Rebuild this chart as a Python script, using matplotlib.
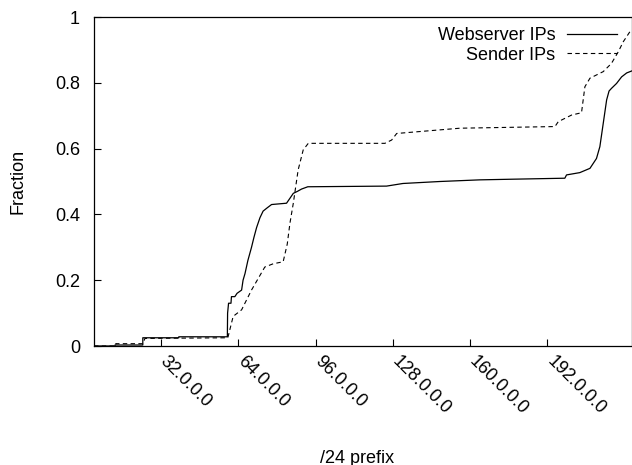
import matplotlib
matplotlib.use("Agg")
import matplotlib.pyplot as plt
from matplotlib.ticker import FixedLocator, FuncFormatter
from matplotlib.transforms import ScaledTranslation

plt.rcParams['font.family'] = ['Liberation Sans', 'DejaVu Sans']

# x in units of the first octet (/8), y = cumulative fraction
web_x = [4.3, 13.0, 13.0, 24.5, 24.5, 39.4, 39.4, 59.5, 59.6, 60.0, 61.0, 61.2,
         62.6, 63.5, 65.4, 66.0, 66.8, 68.0, 69.5, 70.5, 71.6, 73.0, 74.3, 76.0,
         77.8, 84.0, 85.5, 86.8, 88.5, 90.2, 92.8, 125.4, 132.2, 147.5, 164.0,
         177.7, 199.2, 199.9, 205.4, 209.6, 212.3, 213.7, 215.1, 216.5, 217.5,
         218.5, 220.6, 222.7, 224.8, 226.9]
web_y = [0.0, 0.0, 0.003, 0.003, 0.025, 0.025, 0.028, 0.028, 0.10, 0.13, 0.13, 0.15,
         0.15, 0.16, 0.17, 0.20, 0.22, 0.26, 0.30, 0.33, 0.36, 0.39, 0.41, 0.42,
         0.43, 0.434, 0.45, 0.464, 0.47, 0.477, 0.484, 0.486, 0.494, 0.50, 0.505,
         0.507, 0.51, 0.52, 0.527, 0.54, 0.57, 0.606, 0.677, 0.748, 0.775,
         0.783, 0.798, 0.818, 0.83, 0.836]

snd_x = [4.3, 13.3, 13.3, 24.5, 25.4, 59.7, 61.9, 65.4, 69.5, 75.0, 78.5, 82.6,
         84.3, 85.4, 86.8, 88.8, 90.9, 93.0, 124.7, 127.5, 129.6, 155.8, 195.1,
         196.5, 202.0, 206.1, 207.5, 209.6, 215.1, 218.5, 221.3, 223.4, 226.1, 227.0]
snd_y = [0.0, 0.0, 0.007, 0.007, 0.023, 0.025, 0.09, 0.11, 0.17, 0.24, 0.25, 0.256,
         0.31, 0.373, 0.434, 0.535, 0.596, 0.616, 0.616, 0.626, 0.646, 0.662, 0.667,
         0.682, 0.702, 0.709, 0.788, 0.814, 0.834, 0.859, 0.894, 0.925, 0.955, 0.96]

xticks = [32, 64, 96, 128, 160, 192]
yticks = [0, 0.2, 0.4, 0.6, 0.8, 1]

fig = plt.figure(figsize=(6.32, 4.65), dpi=100)
ax = fig.add_axes([94/632, 1 - 346/465, 1 - 94/632, (346 - 17)/465])

ax.plot(web_x, web_y, color='black', lw=0.9, label='Webserver IPs')
ax.plot(snd_x, snd_y, color='black', lw=0.8, dashes=(4, 3), label='Sender IPs')

ax.set_xlim(4.3, 227)
ax.set_ylim(0, 1)
ax.xaxis.set_major_locator(FixedLocator(xticks))
ax.xaxis.set_major_formatter(FuncFormatter(lambda v, pos: "%d.0.0.0" % v))
ax.yaxis.set_major_locator(FixedLocator(yticks))
ax.yaxis.set_major_formatter(FuncFormatter(lambda v, pos: "%g" % v))
ax.tick_params(direction='in', length=5, width=0.8, labelsize=13)
ax.tick_params(axis='y', pad=10)
ax.tick_params(axis='x', pad=6)
# gnuplot-style rotated tic labels hanging from the tick
shift = ScaledTranslation(8/100, 2/100, fig.dpi_scale_trans)
for lab in ax.get_xticklabels():
    lab.set_rotation(-45)
    lab.set_ha('left')
    lab.set_va('top')
    lab.set_rotation_mode('anchor')
    lab.set_transform(lab.get_transform() + shift)
for sp in ax.spines.values():
    sp.set_linewidth(0.9)

fig.text(18/632, 1 - 181/465, 'Fraction', rotation=90, ha='center', va='center', fontsize=13)
fig.text(357/632, 1 - 458/465, '/24 prefix', ha='center', va='center', fontsize=13)

ax.legend(loc='upper right', frameon=False, markerfirst=False, fontsize=13,
          handlelength=2.75, handletextpad=0.65, labelspacing=0.15,
          borderaxespad=0.0, bbox_to_anchor=(0.985, 0.992))

fig.savefig('out.png', dpi=100)
